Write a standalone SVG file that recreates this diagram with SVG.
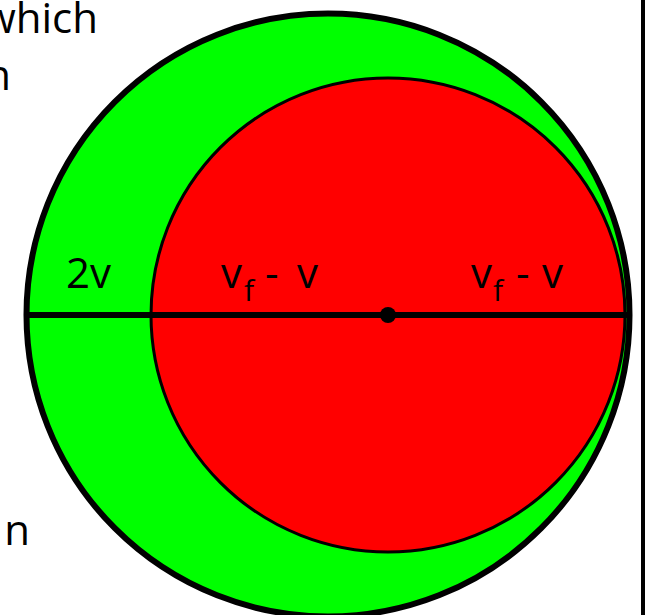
<svg xmlns="http://www.w3.org/2000/svg" width="646" height="615" viewBox="0 0 646 615">
<style>
.t{font-family:"Open Sans","Noto Sans","Liberation Sans",sans-serif;font-size:42px;fill:#000}
.sub{font-size:30px}
</style>
<rect width="646" height="615" fill="#fff"/>
<g id="page-text">
<text class="t" x="98" y="33" text-anchor="end">which</text>
<text class="t" x="11" y="90" text-anchor="end">n</text>
<text class="t" x="30" y="545" text-anchor="end">n</text>
</g>
<g id="outer-circle">
<circle cx="328" cy="315" r="301.5" fill="#00ff00" stroke="#000" stroke-width="6"/>
</g>
<g id="inner-circle">
<circle cx="388" cy="315" r="237" fill="#ff0000" stroke="#000" stroke-width="3"/>
</g>
<g id="connectors">
<line x1="26" y1="315" x2="630" y2="315" stroke="#000" stroke-width="6"/>
<circle cx="388" cy="315" r="8" fill="#000"/>
</g>
<g id="labels">
<text class="t" x="66" y="288">2v</text>
<text class="t" x="221" y="288">v<tspan class="sub" x="244" dy="13">f</tspan><tspan x="265 278 297" dy="-13">- v</tspan></text>
<text class="t" x="471" y="288">v<tspan class="sub" x="493" dy="13">f</tspan><tspan x="516 529 542" dy="-13">- v</tspan></text>
</g>
<g id="frame">
<line x1="643" y1="0" x2="643" y2="615" stroke="#000" stroke-width="4"/>
</g>
</svg>
